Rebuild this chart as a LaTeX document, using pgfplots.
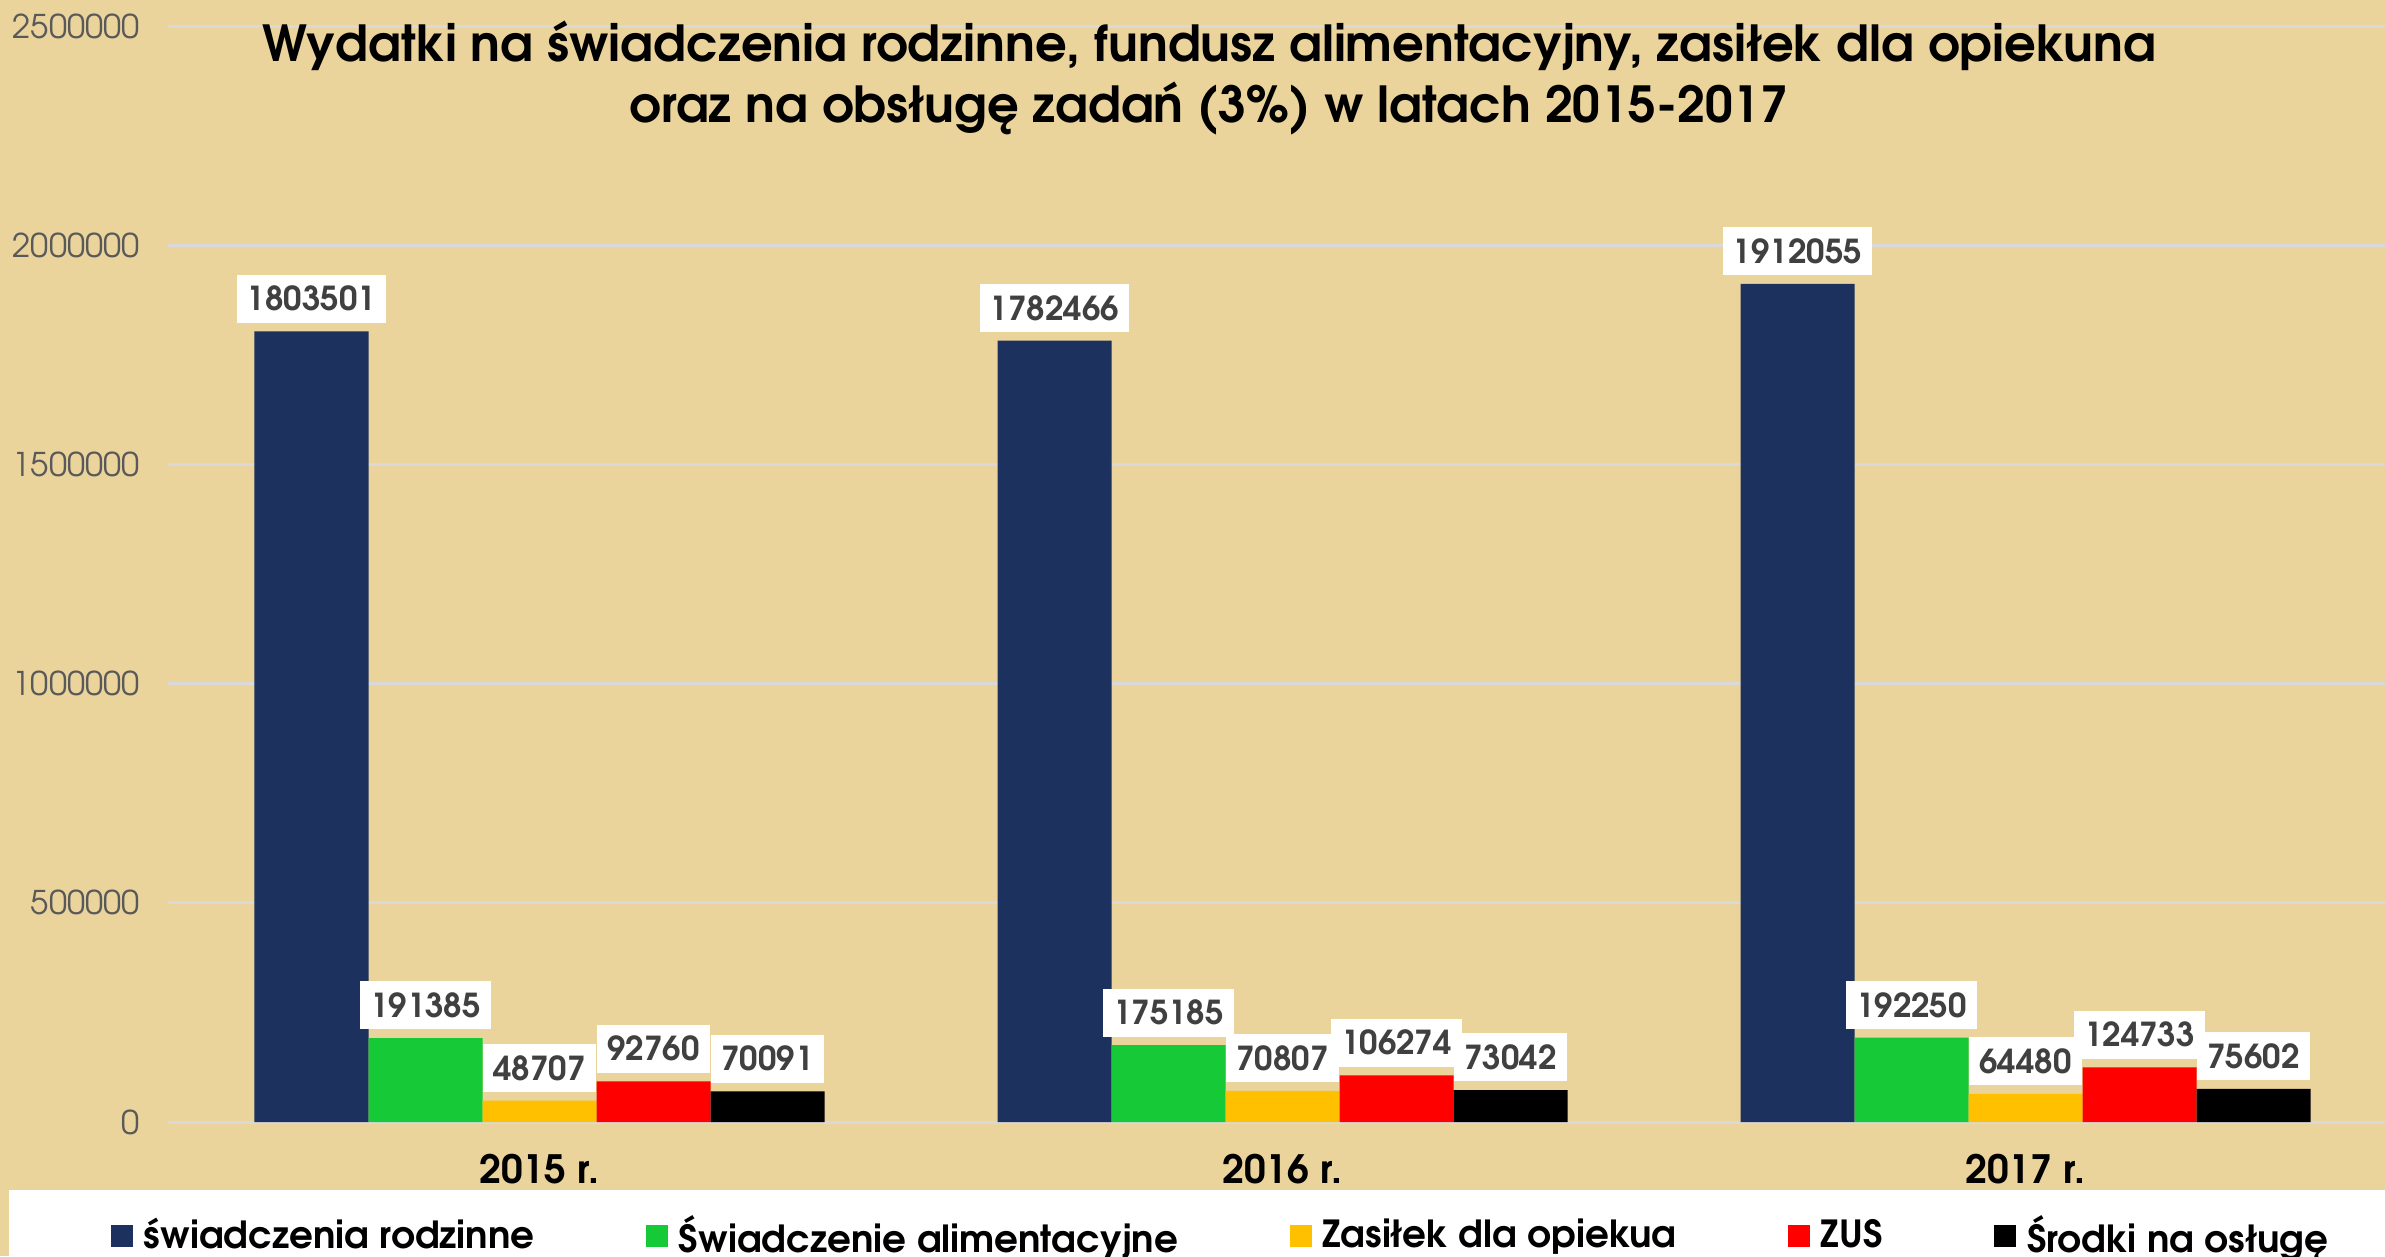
\documentclass[border=0pt]{standalone}
\usepackage{pgfplots}
\pgfplotsset{compat=1.18}
\usepackage{fontspec}
\setmainfont{texgyreadventor}[Extension=.otf, UprightFont=*-regular, BoldFont=*-bold, ItalicFont=*-italic, BoldItalicFont=*-bolditalic]
\definecolor{bg}{RGB}{234,212,156}
\definecolor{navy}{RGB}{28,49,94}
\definecolor{grn}{RGB}{22,201,55}
\definecolor{ylw}{RGB}{255,192,0}
\definecolor{gridc}{RGB}{217,217,217}
\definecolor{tickc}{RGB}{89,89,89}
\definecolor{labc}{RGB}{64,64,64}
\pgfplotsset{sqleg/.style={legend image code/.code={\fill[##1] (0pt,-3.3pt) rectangle (6.6pt,3.3pt);}}}
\begin{document}
\begin{tikzpicture}[x=0.3pt,y=0.3pt]
\fill[bg] (0,0) rectangle (2385,1256);
\useasboundingbox (0,0) rectangle (2385,1256);
\fill[white] (9,0) rectangle (2385,66);
\begin{axis}[
  at={(50.4pt,40.2pt)}, anchor=south west,
  scale only axis, width=668.7pt, height=328.8pt,
  xmin=-0.5, xmax=2.5, ymin=0, ymax=2500000,
  ybar=0pt, bar width=34.2pt,
  xtick={0,1,2}, xticklabels={2015 r.,2016 r.,2017 r.},
  ytick={0,500000,1000000,1500000,2000000,2500000},
  scaled y ticks=false,
  /pgf/number format/assume math mode=true,
  yticklabel style={/pgf/number format/fixed,/pgf/number format/1000 sep={}, font=\fontsize{9.8}{11}\selectfont, text=tickc, xshift=-5pt},
  xticklabel style={font=\bfseries\fontsize{11.7}{13}\selectfont, text=black, yshift=-6pt},
  axis line style={draw=none}, major tick length=0pt,
  ymajorgrids, grid style={gridc, line width=0.9pt},
  clip=false,
  point meta=explicit symbolic,
  nodes near coords,
  every node near coord/.append style={fill=white, text=labc, font=\bfseries\fontsize{9.9}{11}\selectfont, inner xsep=3pt, inner ysep=0pt, minimum height=14.4pt, yshift=2.4pt},
  legend columns=5,
  legend style={draw=none, fill=none, at={(0.4733,-0.104)}, anchor=center, font=\bfseries\fontsize{11.2}{13}\selectfont, /tikz/every odd column/.append style={column sep=1.2pt}, /tikz/every even column/.append style={column sep=31.5pt}},
]
\addplot[fill=navy, draw=none, sqleg] coordinates {(0,1803501) [1803501] (1,1782466) [1782466] (2,1912055) [1912055]};
\addplot[fill=grn, draw=none, sqleg] coordinates {(0,191385) [191385] (1,175185) [175185] (2,192250) [192250]};
\addplot[fill=ylw, draw=none, sqleg] coordinates {(0,48707) [48707] (1,70807) [70807] (2,64480) [64480]};
\addplot[fill=red, draw=none, sqleg] coordinates {(0,92760) [92760] (1,106274) [106274] (2,124733) [124733]};
\addplot[fill=black, draw=none, sqleg] coordinates {(0,70091) [70091] (1,73042) [73042] (2,75602) [75602]};
\legend{świadczenia rodzinne, Świadczenie alimentacyjne, Zasiłek dla opiekua, ZUS, Środki na osługę}
\end{axis}
\node[align=center, font=\bfseries\fontsize{14.9}{18.5}\selectfont, text=black] at (1209,1178) {Wydatki na świadczenia rodzinne, fundusz alimentacyjny, zasiłek dla opiekuna\\oraz na obsługę zadań (3\%) w latach 2015-2017};
\end{tikzpicture}
\end{document}
